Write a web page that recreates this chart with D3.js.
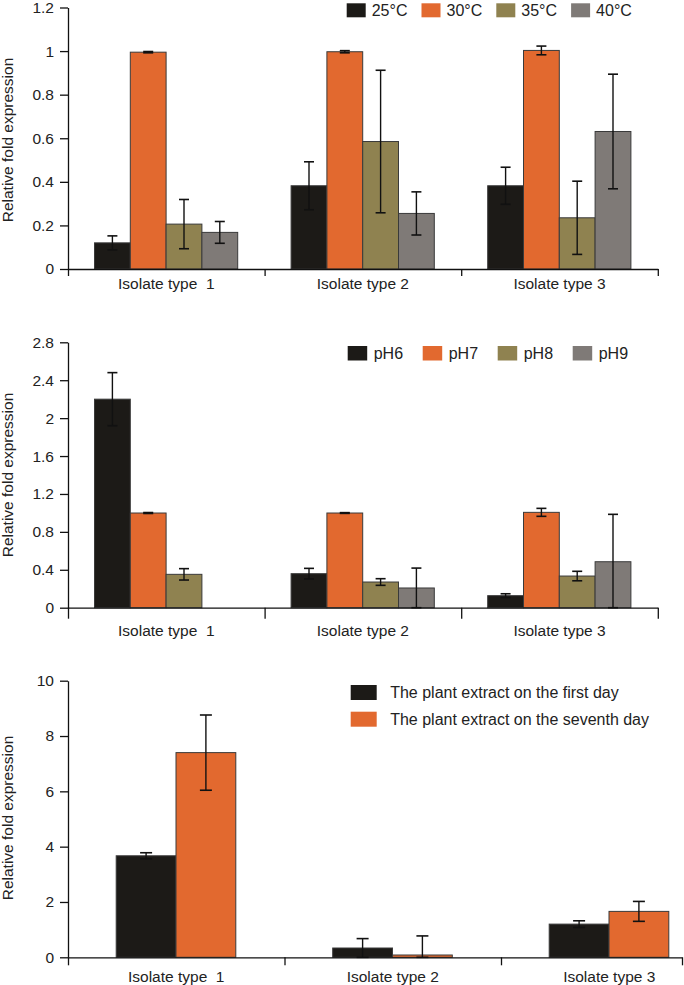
<!DOCTYPE html>
<html>
<head>
<meta charset="utf-8">
<script src="https://cdn.jsdelivr.net/npm/d3@7"></script>
<style>
  html, body { margin: 0; padding: 0; background: #fff; }
  svg { display: block; font-family: "Liberation Sans", Arial, sans-serif; }
</style>
</head>
<body>
<svg id="chart" width="684" height="985"></svg>
<script>
// ---------- DATA ----------
const categories = ["Isolate type  1", "Isolate type 2", "Isolate type 3"];

const tempLabels = ["25°C", "30°C", "35°C", "40°C"];
const tempValues = [
  [0.120, 0.382, 0.382],
  [0.995, 0.997, 1.003],
  [0.206, 0.585, 0.235],
  [0.168, 0.255, 0.631]
];
const tempErrors = [
  [0.032, 0.110, 0.085],
  [0.003, 0.005, 0.020],
  [0.113, 0.327, 0.168],
  [0.050, 0.099, 0.263]
];
const tempTicks = [0, 0.2, 0.4, 0.6, 0.8, 1, 1.2];

const phLabels = ["pH6", "pH7", "pH8", "pH9"];
const phValues = [
  [2.200, 0.359, 0.127],
  [0.999, 0.999, 1.006],
  [0.352, 0.271, 0.334],
  [null, 0.208, 0.485]
];
const phErrors = [
  [0.280, 0.056, 0.020],
  [0.005, 0.004, 0.042],
  [0.060, 0.035, 0.050],
  [null, 0.210, 0.500]
];
const phTicks = [0, 0.4, 0.8, 1.2, 1.6, 2, 2.4, 2.8];

const plantLabels = ["The plant extract on the first day", "The plant extract on the seventh day"];
const plantValues = [
  [3.67, 0.336, 1.20],
  [7.40, 0.083, 1.66]
];
const plantErrors = [
  [0.11, 0.34, 0.12],
  [1.36, 0.69, 0.36]
];
const plantTicks = [0, 2, 4, 6, 8, 10];

const seriesColors = ["#1c1a17", "#e2692f", "#8f8250", "#7f7a77"];
const yTitle = "Relative fold expression";

// ---------- DRAW ----------
const svg = d3.select("#chart");
const fmt = d3.format("~g");
const FONT = 15.5;

function panel(cfg) {
  const g = svg.append("g");
  const y = d3.scaleLinear().domain([0, cfg.ymax]).range([cfg.y0, cfg.y1]);
  const x = d3.scaleBand().domain(categories).range([cfg.x0, cfg.x0 + cfg.step * 3]).padding(0);
  const nS = cfg.values.length;
  const xs = d3.scaleBand().domain(d3.range(nS)).range([cfg.groupOff, cfg.groupOff + cfg.barW * nS]).padding(0);

  // bars
  cfg.values.forEach((vals, s) => {
    vals.forEach((v, i) => {
      if (v == null) return;
      g.append("rect")
        .attr("x", x(categories[i]) + xs(s))
        .attr("y", y(v))
        .attr("width", xs.bandwidth())
        .attr("height", y(0) - y(v))
        .attr("fill", seriesColors[s])
        .attr("stroke", "#3a3a3a")
        .attr("stroke-width", 1);
    });
  });
  // error bars
  cfg.values.forEach((vals, s) => {
    vals.forEach((v, i) => {
      const e = cfg.errors[s][i];
      if (v == null || e == null) return;
      const cx = x(categories[i]) + xs(s) + xs.bandwidth() / 2;
      const hi = y(v + e), lo = y(Math.max(0, v - e));
      const cw = cfg.cap / 2;
      g.append("line").attr("x1", cx).attr("x2", cx).attr("y1", hi).attr("y2", lo)
        .attr("stroke", "#111").attr("stroke-width", 1.4);
      g.append("line").attr("x1", cx - cw).attr("x2", cx + cw).attr("y1", hi).attr("y2", hi)
        .attr("stroke", "#111").attr("stroke-width", 1.6);
      g.append("line").attr("x1", cx - cw).attr("x2", cx + cw).attr("y1", lo).attr("y2", lo)
        .attr("stroke", "#111").attr("stroke-width", 1.6);
    });
  });

  // y axis
  const ya = g.append("g").attr("transform", `translate(${cfg.x0},0)`)
    .call(d3.axisLeft(y).tickValues(cfg.ticks).tickFormat(fmt).tickSize(8).tickSizeOuter(0).tickPadding(6));
  ya.selectAll("path, line").attr("stroke", "#111").attr("stroke-width", 1.3);
  ya.selectAll("text").attr("font-size", FONT).attr("fill", "#222")
    .attr("font-family", "'Liberation Sans', Arial, sans-serif");

  // x axis (boundaries)
  const nb = (cfg.xEnd - cfg.x0) / cfg.step;
  const xb = d3.scaleLinear().domain([0, nb]).range([cfg.x0, cfg.xEnd]);
  const bTicks = d3.range(0, Math.floor(nb + 1e-6) + 1);
  if (Math.abs(nb - Math.round(nb)) > 0.01) bTicks.push(nb);
  const xa = g.append("g").attr("transform", `translate(0,${cfg.y0})`)
    .call(d3.axisBottom(xb).tickValues(bTicks).tickFormat("").tickSize(cfg.xTick).tickSizeOuter(0));
  xa.selectAll("path, line").attr("stroke", "#111").attr("stroke-width", 1.3);

  // category labels
  g.selectAll("text.cat").data(categories).enter().append("text")
    .attr("class", "cat")
    .attr("x", d => x(d) + x.bandwidth() / 2)
    .attr("y", cfg.labelY)
    .attr("text-anchor", "middle")
    .attr("font-size", FONT)
    .attr("fill", "#222")
    .style("white-space", "pre")
    .text(d => d);

  // y title
  g.append("text")
    .attr("transform", `translate(${cfg.titleX},${cfg.titleY}) rotate(-90)`)
    .attr("text-anchor", "middle")
    .attr("font-size", FONT)
    .attr("fill", "#222")
    .text(yTitle);

  // legend
  cfg.labels.forEach((lab, s) => {
    const lx = cfg.legX + s * cfg.legDX;
    const ly = cfg.legY + s * cfg.legDY;
    g.append("rect").attr("x", lx).attr("y", ly).attr("width", cfg.swW).attr("height", cfg.swH)
      .attr("fill", seriesColors[s]);
    g.append("text").attr("x", lx + cfg.textOff).attr("y", ly + cfg.swH / 2)
      .attr("dy", "0.36em").attr("font-size", cfg.legFont).attr("fill", "#222").text(lab);
  });
}

panel({
  values: tempValues, errors: tempErrors, labels: tempLabels, ticks: tempTicks, ymax: 1.2,
  y0: 269, y1: 7.5, x0: 68, step: 196.6, xEnd: 657.8, groupOff: 26.5, barW: 35.8, cap: 10,
  xTick: 7, labelY: 289, titleX: 13, titleY: 140,
  legX: 346.7, legY: 3.3, legDX: 74.8, legDY: 0, swW: 19, swH: 14, textOff: 25, legFont: 16
});

panel({
  values: phValues, errors: phErrors, labels: phLabels, ticks: phTicks, ymax: 2.8,
  y0: 607.7, y1: 342.3, x0: 68, step: 196.6, xEnd: 657.8, groupOff: 26.5, barW: 35.8, cap: 10,
  xTick: 11, labelY: 636, titleX: 13, titleY: 475,
  legX: 347.7, legY: 346, legDX: 75, legDY: 0, swW: 19.5, swH: 14.5, textOff: 26, legFont: 16
});

panel({
  values: plantValues, errors: plantErrors, labels: plantLabels, ticks: plantTicks, ymax: 10,
  y0: 957.3, y1: 680.7, x0: 68, step: 216.5, xEnd: 682, groupOff: 48.2, barW: 59.8, cap: 12,
  xTick: 8, labelY: 982, titleX: 13, titleY: 818,
  legX: 350.7, legY: 685, legDX: 0, legDY: 26.7, swW: 26, swH: 15, textOff: 39.5, legFont: 16
});
</script>
</body>
</html>
